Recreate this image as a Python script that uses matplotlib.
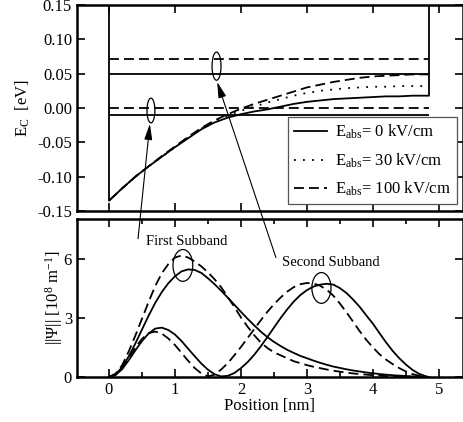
#!/usr/bin/env python
import matplotlib
matplotlib.use('Agg')
import matplotlib.pyplot as plt
from matplotlib.patches import Ellipse
from matplotlib.ticker import MultipleLocator, FormatStrFormatter

plt.rcParams['font.family'] = ['Liberation Serif', 'DejaVu Serif']
plt.rcParams['mathtext.fontset'] = 'custom'
plt.rcParams['mathtext.rm'] = 'Liberation Serif'
plt.rcParams['mathtext.it'] = 'Liberation Serif:italic'

# position in the well [nm], band edge grid
x = [0.0, 0.2, 0.4, 0.6, 0.8, 1.0, 1.2, 1.4, 1.6, 1.8, 2.0, 2.2, 2.4,
     2.6, 2.8, 3.0, 3.2, 3.4, 3.6, 3.8, 4.0, 4.2, 4.4, 4.6, 4.85]
barrier_top = 0.16

# conduction band edge [eV]
cb_0 = [-0.135, -0.117, -0.100, -0.085, -0.071, -0.057, -0.044, -0.031, -0.021,
        -0.014, -0.009, -0.005, -0.002, 0.002, 0.006, 0.009, 0.011, 0.013,
        0.014, 0.015, 0.016, 0.017, 0.017, 0.018, 0.018]
cb_30 = [-0.135, -0.117, -0.100, -0.085, -0.071, -0.057, -0.043, -0.030, -0.019,
         -0.011, -0.004, 0.002, 0.008, 0.013, 0.018, 0.022, 0.025, 0.027,
         0.029, 0.030, 0.031, 0.031, 0.032, 0.032, 0.032]
cb_100 = [-0.135, -0.117, -0.100, -0.085, -0.070, -0.056, -0.042, -0.029, -0.018,
          -0.009, -0.001, 0.006, 0.012, 0.018, 0.024, 0.030, 0.034, 0.038,
          0.041, 0.044, 0.046, 0.047, 0.048, 0.049, 0.049]

# subband energies [eV]
levels_0 = [-0.010, 0.050]
levels_100 = [0.000, 0.071]

# wave function grid [nm]
xp = [0.0, 0.1, 0.2, 0.3, 0.4, 0.5, 0.6, 0.7, 0.8, 0.9,
      1.0, 1.1, 1.2, 1.3, 1.4, 1.5, 1.6, 1.7, 1.8, 1.9,
      2.0, 2.1, 2.2, 2.3, 2.4, 2.5, 2.6, 2.7, 2.8, 2.9,
      3.0, 3.1, 3.2, 3.3, 3.4, 3.5, 3.6, 3.7, 3.8, 3.9,
      4.0, 4.1, 4.2, 4.3, 4.4, 4.5, 4.6, 4.7, 4.8, 4.85]

# |psi| [1e8 1/m]
psi1_0 = [0, 0.13, 0.5, 1.05, 1.7, 2.4, 3.1, 3.75, 4.3, 4.75,
          5.1, 5.35, 5.45, 5.42, 5.27, 5.0, 4.7, 4.37, 4.02, 3.66,
          3.3, 2.95, 2.62, 2.3, 2.02, 1.78, 1.57, 1.38, 1.22, 1.07,
          0.95, 0.83, 0.72, 0.62, 0.53, 0.46, 0.39, 0.33, 0.28, 0.23,
          0.19, 0.15, 0.12, 0.09, 0.07, 0.05, 0.03, 0.02, 0.01, 0]
psi1_100 = [0, 0.17, 0.6, 1.3, 2.1, 2.95, 3.8, 4.6, 5.25, 5.72,
            6.05, 6.15, 6.05, 5.85, 5.6, 5.3, 4.95, 4.55, 4.05, 3.55,
            3.02, 2.55, 2.12, 1.75, 1.47, 1.25, 1.1, 0.95, 0.8, 0.7,
            0.6, 0.52, 0.45, 0.38, 0.32, 0.27, 0.22, 0.18, 0.15, 0.12,
            0.09, 0.07, 0.05, 0.04, 0.03, 0.02, 0.01, 0.01, 0.0, 0]
psi2_0 = [0, 0.1, 0.4, 0.85, 1.35, 1.82, 2.2, 2.45, 2.5, 2.38,
          2.15, 1.82, 1.43, 1.05, 0.68, 0.37, 0.14, 0.03, 0.06, 0.2,
          0.45, 0.75, 1.12, 1.55, 2.02, 2.5, 2.98, 3.42, 3.82, 4.15,
          4.4, 4.58, 4.68, 4.72, 4.68, 4.5, 4.25, 3.92, 3.55, 3.12,
          2.7, 2.22, 1.75, 1.32, 0.95, 0.63, 0.36, 0.16, 0.04, 0]
psi2_100 = [0, 0.12, 0.47, 0.98, 1.5, 1.93, 2.22, 2.3, 2.2, 1.95,
            1.62, 1.22, 0.82, 0.45, 0.18, 0.03, 0.12, 0.38, 0.7, 1.1,
            1.52, 1.97, 2.42, 2.87, 3.3, 3.68, 4.02, 4.32, 4.55, 4.7,
            4.76, 4.74, 4.62, 4.42, 4.12, 3.72, 3.27, 2.8, 2.32, 1.88,
            1.5, 1.15, 0.88, 0.65, 0.45, 0.28, 0.15, 0.06, 0.01, 0]

labels = [r'E$_{\mathrm{abs}}$= 0 kV/cm', r'E$_{\mathrm{abs}}$= 30 kV/cm',
          r'E$_{\mathrm{abs}}$= 100 kV/cm']

LW = 1.3
DASH = (5.5, 2.8)
DOT = (1.0, 4.0)

fig = plt.figure(figsize=(4.64, 4.22), dpi=100)
ax1 = fig.add_axes([0.1659, 0.5, 0.8319, 0.488])
ax2 = fig.add_axes([0.1659, 0.1066, 0.8319, 0.3744])

# --- top: band edge ---
xw = [x[0]] + x + [x[-1]]
l0, = ax1.plot(xw, [barrier_top] + cb_0 + [barrier_top], color='k', lw=LW,
               label=labels[0])
l30, = ax1.plot(x, cb_30, color='k', lw=LW, dashes=DOT, label=labels[1])
l100, = ax1.plot(x, cb_100, color='k', lw=LW, dashes=DASH, label=labels[2])
for e in levels_0:
    ax1.hlines(e, x[0], x[-1], color='k', lw=LW)
for e in levels_100:
    ax1.hlines(e, x[0], x[-1], color='k', lw=LW, linestyles=[(0, DASH)])

ax1.add_patch(Ellipse((0.636, -0.0036), 0.12, 0.036, fill=False, lw=0.9))
ax1.add_patch(Ellipse((1.63, 0.061), 0.136, 0.041, fill=False, lw=0.9))

ax1.set_xlim(-0.485, 5.365)
ax1.set_ylim(-0.15, 0.15)
ax1.xaxis.set_major_locator(MultipleLocator(1))
ax1.yaxis.set_major_locator(MultipleLocator(0.05))
ax1.yaxis.set_major_formatter(FormatStrFormatter('%.2f'))
ax1.tick_params(axis='x', labelbottom=False)
ax1.set_ylabel(r'E$_{\mathrm{C}}$  [eV]', fontsize=12)

leg = ax1.legend(handles=[l0, l30, l100], loc='lower right',
                 bbox_to_anchor=(0.985, 0.034), fontsize=12, frameon=True,
                 fancybox=False, edgecolor='#555555', framealpha=1,
                 handlelength=2.0, handletextpad=0.5, borderpad=0.35,
                 labelspacing=0.6, borderaxespad=0)
leg.get_frame().set_linewidth(0.9)

# --- bottom: wave functions ---
ax2.plot(xp, psi1_0, color='k', lw=LW)
ax2.plot(xp, psi1_100, color='k', lw=LW, dashes=DASH)
ax2.plot(xp, psi2_0, color='k', lw=LW)
ax2.plot(xp, psi2_100, color='k', lw=LW, dashes=DASH)

ax2.add_patch(Ellipse((1.12, 5.65), 0.30, 1.61, fill=False, lw=0.9))
ax2.add_patch(Ellipse((3.22, 4.51), 0.29, 1.56, fill=False, lw=0.9))

ax2.set_xlim(-0.485, 5.365)
ax2.set_ylim(0, 8)
ax2.xaxis.set_major_locator(MultipleLocator(1))
ax2.xaxis.set_minor_locator(MultipleLocator(0.5))
ax2.yaxis.set_major_locator(MultipleLocator(3))
ax2.set_xlabel('Position [nm]', fontsize=12, labelpad=0)
ax2.set_ylabel('||\u03a8|| [10$^{8}$ m$^{-1}$]', fontsize=12, labelpad=-1)

ax2.text(0.56, 6.86, 'First Subband', fontsize=10.5, va='center', ha='left')
ax2.text(2.62, 5.8, 'Second Subband', fontsize=10.5, va='center', ha='left')

arrow = dict(arrowstyle='-|>,head_length=0.8,head_width=0.2', lw=0.8,
             color='k', shrinkA=0, shrinkB=0, mutation_scale=12)
ax2.annotate('', xy=(0.62, -0.023), xycoords=ax1.transData,
             xytext=(0.44, 7.0), textcoords='data', arrowprops=arrow,
             annotation_clip=False)
ax2.annotate('', xy=(1.64, 0.038), xycoords=ax1.transData,
             xytext=(2.53, 6.05), textcoords='data', arrowprops=arrow,
             annotation_clip=False)

for ax in (ax1, ax2):
    ax.tick_params(which='both', direction='in', top=True, right=True,
                   labelsize=12, width=1.2)
    ax.tick_params(which='major', length=6)
    ax.tick_params(which='minor', length=3.5)
    for s in ax.spines.values():
        s.set_linewidth(1.8)

fig.savefig('out.png', dpi=100)
